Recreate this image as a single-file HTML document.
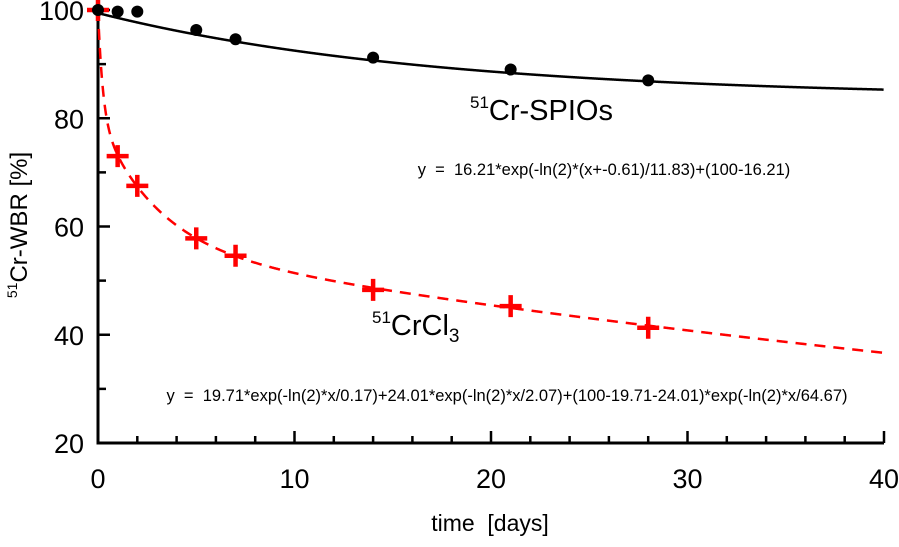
<!DOCTYPE html>
<html><head><style>
body{margin:0;background:#fff}
svg{font-family:"Liberation Sans",sans-serif}
.pre{white-space:pre}
</style></head><body>
<svg id="c" width="899" height="542"></svg>
<script>
const spiosDays=[0,1,2,5,7,14,21,28];
const spiosValues=[100,99.7,99.7,96.3,94.6,91.2,89,87];
const crclDays=[0,1,2,5,7,14,21,28];
const crclValues=[100,73,67.5,57.8,54.6,48.3,45.3,41.3];
const xTicks=[0,10,20,30,40];
const yTicks=[20,40,60,80,100];
const spiosFit=[16.21,-0.61,11.83];
const crclFit=[19.71,0.17,24.01,2.07,64.67];
const NS="http://www.w3.org/2000/svg";
const svg=document.getElementById('c');
const X=d=>98+d*(884-98)/40;
const Y=v=>443-(v-20)*(443-10)/80;
function el(t,a,p){const e=document.createElementNS(NS,t);for(const k in a)e.setAttribute(k,a[k]);(p||svg).appendChild(e);return e;}
function f1(x){return spiosFit[0]*Math.exp(-Math.LN2*(x-spiosFit[1])/spiosFit[2])+(100-spiosFit[0]);}
function f2(x){const a=crclFit;return a[0]*Math.exp(-Math.LN2*x/a[1])+a[2]*Math.exp(-Math.LN2*x/a[3])+(100-a[0]-a[2])*Math.exp(-Math.LN2*x/a[4]);}
let ax=el('path',{d:`M${X(0)} ${Y(100)-2}V${Y(20)}H${X(40)}`,stroke:'#000','stroke-width':3,fill:'none'});


for(let v=30;v<=100;v+=10){const t=el('line',{x1:X(0),x2:X(0)+(v%20==0?12:8),y1:Y(v),y2:Y(v),stroke:'#000','stroke-width':2.5});}
for(let d=2;d<=40;d+=2){const t=el('line',{x1:X(d),x2:X(d),y1:Y(20),y2:Y(20)-(d%10==0?12:7),stroke:'#000','stroke-width':2.5});}
yTicks.forEach(v=>{const t=el('text',{x:84,y:Y(v)+10,'font-size':27,'text-anchor':'end'});t.textContent=v;});
xTicks.forEach(v=>{const t=el('text',{x:X(v),y:488,'font-size':27,'text-anchor':'middle'});t.textContent=v;});
let xt=el('text',{x:490,y:531,'font-size':23,'text-anchor':'middle','class':'pre'});xt.textContent='time  [days]';

let yt=el('text',{transform:'translate(27,225) rotate(-90)','font-size':24,'text-anchor':'middle'});
yt.innerHTML='<tspan font-size="14" dy="-10">51</tspan><tspan dy="10">Cr-WBR [%]</tspan>';

let p1=[],p2=[];for(let x=0;x<=40;x+=0.02){p1.push(X(x)+','+Y(f1(x)));p2.push(X(x)+','+Y(Math.min(f2(x),100)));}
let c1=el('polyline',{points:p1.join(' '),fill:'none',stroke:'#000','stroke-width':2.5});

let c2=el('polyline',{points:p2.join(' '),fill:'none',stroke:'#f00','stroke-width':2.5,'stroke-dasharray':'11 8'});

crclDays.forEach((d,i)=>{const g=el('path',{d:`M${X(d)-11} ${Y(crclValues[i])}h22M${X(d)} ${Y(crclValues[i])-11}v22`,stroke:'#f00','stroke-width':4.5});});
spiosDays.forEach((d,i)=>{const g=el('circle',{cx:X(d),cy:Y(spiosValues[i]),r:6,fill:'#000'});});
let l1=el('text',{x:470,y:120,'font-size':29});l1.innerHTML='<tspan font-size="17" dy="-12">51</tspan><tspan dy="12">Cr-SPIOs</tspan>';

let l2=el('text',{x:372,y:335,'font-size':29});l2.innerHTML='<tspan font-size="17" dy="-12">51</tspan><tspan dy="12">CrCl</tspan><tspan font-size="19" dy="7">3</tspan>';

let e1=el('text',{x:604,y:175,'font-size':16.5,'text-anchor':'middle','class':'pre'});e1.textContent='y  =  16.21*exp(-ln(2)*(x+-0.61)/11.83)+(100-16.21)';

let e2=el('text',{x:507,y:401,'font-size':16.5,'text-anchor':'middle','class':'pre'});e2.textContent='y  =  19.71*exp(-ln(2)*x/0.17)+24.01*exp(-ln(2)*x/2.07)+(100-19.71-24.01)*exp(-ln(2)*x/64.67)';

</script>
</body></html>
